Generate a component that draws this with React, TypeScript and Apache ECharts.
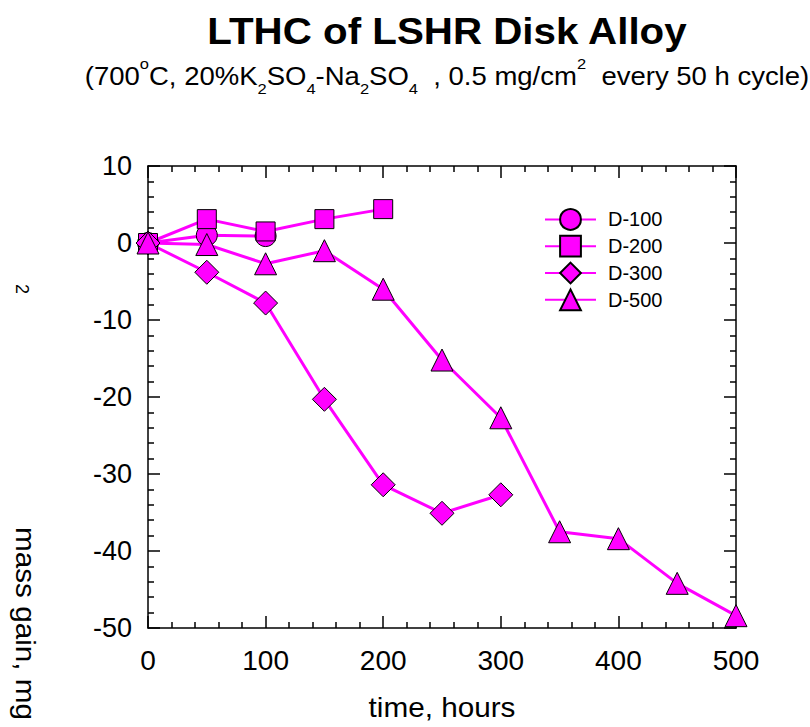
import React, { useEffect, useRef } from "react";
import * as echarts from "echarts";

const times = [0, 50, 100, 150, 200, 250, 300, 350, 400, 450, 500];
const d100 = [0, 1.0, 0.9];
const d200 = [0, 3.1, 1.5, 3.1, 4.4];
const d300 = [0, -3.8, -7.8, -20.3, -31.4, -35.1, -32.7];
const d500 = [0, -0.2, -2.7, -1.0, -6.0, -15.2, -22.7, -37.5, -38.4, -44.2, -48.4];
const legendNames = ["D-100", "D-200", "D-300", "D-500"];

const FONT = "'Liberation Sans', Arial, Helvetica, sans-serif";
const MAG = "#ff00ff";

function pairs(vals: number[]) {
  return vals.map((v, i) => [times[i], v]);
}

export default function App() {
  const ref = useRef<HTMLDivElement>(null);
  useEffect(() => {
    const chart = echarts.init(ref.current!, undefined, { renderer: "svg" });
    const mk = (name: string, vals: number[], symbol: string, size: number) => ({
      name,
      type: "line",
      data: pairs(vals),
      symbol,
      symbolSize: size,
      clip: false,
      lineStyle: { color: MAG, width: 3 },
      itemStyle: { color: MAG, borderColor: "#000", borderWidth: 1 },
      xAxisIndex: 0,
      yAxisIndex: 0,
    });
    const tickStyle = { color: "#000", width: 1.5 };
    const lineStyle = { color: "#000", width: 1.5 };
    chart.setOption({
      animation: false,
      backgroundColor: "#fff",
      grid: { left: 148, right: 74, top: 166, bottom: 99 },
      legend: {
        orient: "vertical",
        left: 539,
        top: 203,
        itemWidth: 51,
        itemHeight: 26,
        itemGap: 4,
        textStyle: { fontFamily: FONT, fontSize: 20, color: "#000", padding: [0, 0, 0, 7] },
        data: legendNames,
      },
      xAxis: [
        {
          type: "value",
          min: 0,
          max: 500,
          interval: 100,
          position: "bottom",
          axisLine: { show: true, onZero: false, lineStyle },
          axisTick: { show: true, inside: true, length: 12, lineStyle: tickStyle },
          minorTick: { show: true, splitNumber: 5, length: 6, lineStyle: tickStyle },
          splitLine: { show: false },
          axisLabel: { fontFamily: FONT, fontSize: 28, color: "#000", margin: 18 },
        },
        {
          type: "value",
          min: 0,
          max: 500,
          interval: 100,
          position: "top",
          axisLine: { show: true, onZero: false, lineStyle },
          axisTick: { show: true, inside: true, length: 12, lineStyle: tickStyle },
          minorTick: { show: true, splitNumber: 5, length: 6, lineStyle: tickStyle },
          splitLine: { show: false },
          axisLabel: { show: false },
        },
      ],
      yAxis: [
        {
          type: "value",
          min: -50,
          max: 10,
          interval: 10,
          position: "left",
          axisLine: { show: true, onZero: false, lineStyle },
          axisTick: { show: true, inside: true, length: 12, lineStyle: tickStyle },
          minorTick: { show: true, splitNumber: 5, length: 6, lineStyle: tickStyle },
          splitLine: { show: false },
          axisLabel: { fontFamily: FONT, fontSize: 27, color: "#000", margin: 16 },
        },
        {
          type: "value",
          min: -50,
          max: 10,
          interval: 10,
          position: "right",
          axisLine: { show: true, onZero: false, lineStyle },
          axisTick: { show: true, inside: true, length: 12, lineStyle: tickStyle },
          minorTick: { show: true, splitNumber: 5, length: 6, lineStyle: tickStyle },
          splitLine: { show: false },
          axisLabel: { show: false },
        },
      ],
      series: [
        mk("D-100", d100, "circle", 21),
        mk("D-200", d200, "rect", 19),
        mk("D-300", d300, "diamond", 24),
        mk("D-500", d500, "triangle", 22),
      ],
      graphic: [
        {
          type: "text",
          x: 447,
          y: 31,
          scaleX: 1.09,
          style: {
            text: "LTHC of LSHR Disk Alloy",
            fontFamily: FONT,
            fontSize: 37,
            fontWeight: "bold",
            fill: "#000",
            align: "center",
            verticalAlign: "middle",
          },
        },
        {
          type: "text",
          x: 447,
          y: 76,
          scaleX: 1.1,
          style: {
            text:
              "(700{sup|o}C, 20%K{sub|2}SO{sub|4}-Na{sub|2}SO{sub|4}  , 0.5 mg/cm{sup|2}  every 50 h cycle)",
            fontFamily: FONT,
            fontSize: 25,
            fill: "#000",
            align: "center",
            verticalAlign: "middle",
            lineHeight: 40,
            rich: {
              sup: { fontSize: 15, fontFamily: FONT, verticalAlign: "top", lineHeight: 33, fill: "#000" },
              sub: { fontSize: 15, fontFamily: FONT, verticalAlign: "bottom", lineHeight: 16, fill: "#000" },
            },
          },
        },
        {
          type: "text",
          x: 442,
          y: 707,
          scaleX: 1.1,
          style: {
            text: "time, hours",
            fontFamily: FONT,
            fontSize: 27,
            fill: "#000",
            align: "center",
            verticalAlign: "middle",
          },
        },
        {
          type: "text",
          x: 26,
          y: 527,
          rotation: -Math.PI / 2,
          scaleX: 1.1,
          style: {
            text: "mass gain, mg",
            fontFamily: FONT,
            fontSize: 27,
            fill: "#000",
            align: "left",
            verticalAlign: "middle",
          },
        },
        {
          type: "text",
          x: 22,
          y: 289,
          rotation: -Math.PI / 2,
          style: {
            text: "2",
            fontFamily: FONT,
            fontSize: 18,
            fill: "#000",
            align: "center",
            verticalAlign: "middle",
          },
        },
      ],
    });
    return () => chart.dispose();
  }, []);
  return (
    <div
      ref={ref}
      style={{ position: "absolute", left: 0, top: 0, width: 810, height: 727 }}
    />
  );
}
